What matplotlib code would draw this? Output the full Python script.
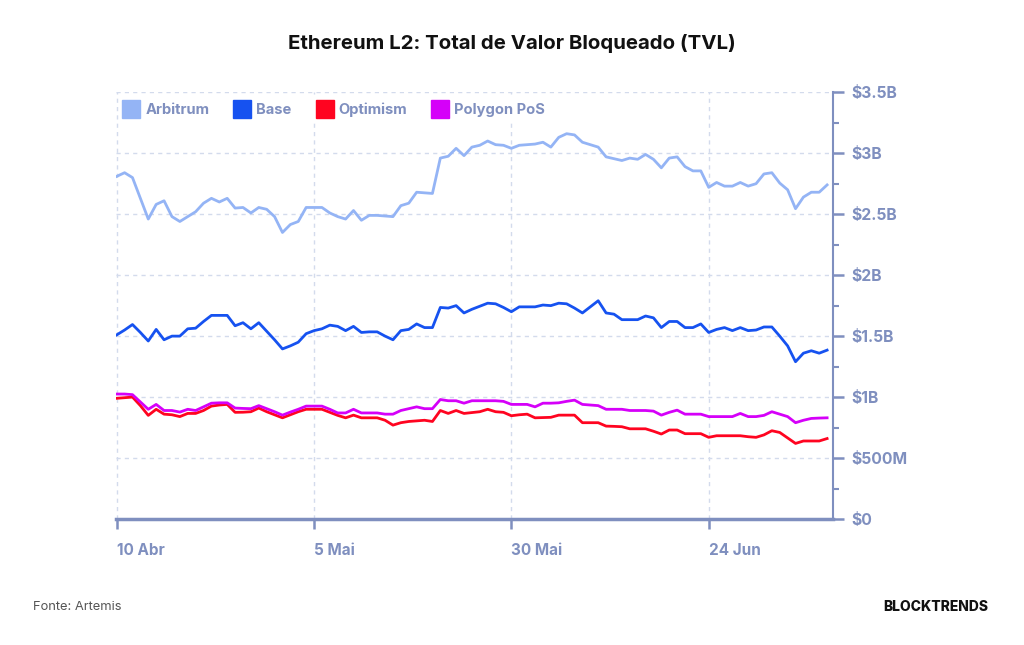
import numpy as np
import pandas as pd
import matplotlib.pyplot as plt
from matplotlib.lines import Line2D

plt.rcParams['font.family'] = ['Inter', 'DejaVu Sans']

# Daily TVL in billions of USD, 10 Apr -> 9 Jul
dates = pd.date_range('2024-04-10', periods=91, freq='D')

arbitrum = [2.81, 2.84, 2.80, 2.63, 2.46, 2.58, 2.61, 2.48, 2.44, 2.48,
            2.52, 2.59, 2.63, 2.60, 2.63, 2.55, 2.555, 2.51, 2.555, 2.54,
            2.48, 2.35, 2.415, 2.44, 2.555, 2.555, 2.555, 2.51, 2.48, 2.46,
            2.53, 2.45, 2.49, 2.49, 2.485, 2.48, 2.57, 2.59, 2.68, 2.675,
            2.67, 2.96, 2.975, 3.04, 2.98, 3.05, 3.065, 3.10, 3.07, 3.065,
            3.04, 3.065, 3.07, 3.075, 3.09, 3.05, 3.13, 3.16, 3.15, 3.09,
            3.07, 3.05, 2.97, 2.955, 2.94, 2.96, 2.95, 2.99, 2.95, 2.88,
            2.96, 2.97, 2.89, 2.855, 2.855, 2.72, 2.76, 2.73, 2.73, 2.76,
            2.73, 2.75, 2.83, 2.84, 2.755, 2.70, 2.545, 2.64, 2.68, 2.68,
            2.74]

base = [1.51, 1.55, 1.595, 1.53, 1.46, 1.555, 1.47, 1.50, 1.50, 1.56,
        1.565, 1.62, 1.67, 1.67, 1.67, 1.585, 1.61, 1.56, 1.61, 1.54,
        1.47, 1.395, 1.42, 1.45, 1.52, 1.545, 1.56, 1.59, 1.58, 1.545,
        1.58, 1.53, 1.535, 1.535, 1.50, 1.47, 1.545, 1.555, 1.60, 1.57,
        1.57, 1.735, 1.73, 1.75, 1.69, 1.72, 1.745, 1.77, 1.765, 1.735,
        1.70, 1.74, 1.74, 1.74, 1.755, 1.75, 1.77, 1.765, 1.73, 1.69,
        1.74, 1.79, 1.69, 1.68, 1.635, 1.635, 1.635, 1.665, 1.65, 1.57,
        1.62, 1.62, 1.57, 1.57, 1.60, 1.53, 1.555, 1.57, 1.545, 1.57,
        1.545, 1.55, 1.575, 1.575, 1.50, 1.42, 1.29, 1.36, 1.38, 1.36,
        1.385]

optimism = [0.99, 0.995, 1.00, 0.93, 0.85, 0.90, 0.86, 0.855, 0.84, 0.866,
            0.866, 0.89, 0.926, 0.935, 0.94, 0.875, 0.876, 0.88, 0.91, 0.88,
            0.855, 0.83, 0.855, 0.88, 0.90, 0.90, 0.90, 0.875, 0.85, 0.83,
            0.852, 0.83, 0.83, 0.83, 0.81, 0.77, 0.79, 0.80, 0.805, 0.81,
            0.80, 0.89, 0.866, 0.89, 0.866, 0.873, 0.88, 0.90, 0.88, 0.875,
            0.847, 0.855, 0.86, 0.83, 0.832, 0.834, 0.852, 0.852, 0.852, 0.79,
            0.79, 0.79, 0.762, 0.76, 0.757, 0.74, 0.74, 0.74, 0.72, 0.697,
            0.73, 0.73, 0.70, 0.70, 0.70, 0.67, 0.683, 0.683, 0.683, 0.683,
            0.675, 0.67, 0.69, 0.724, 0.71, 0.665, 0.62, 0.64, 0.64, 0.64,
            0.66]

polygon = [1.025, 1.025, 1.02, 0.96, 0.90, 0.94, 0.89, 0.89, 0.877, 0.90,
           0.89, 0.92, 0.95, 0.953, 0.953, 0.91, 0.907, 0.905, 0.93, 0.905,
           0.88, 0.852, 0.877, 0.90, 0.926, 0.926, 0.926, 0.90, 0.87, 0.87,
           0.90, 0.87, 0.87, 0.87, 0.86, 0.86, 0.89, 0.905, 0.92, 0.905,
           0.905, 0.98, 0.97, 0.97, 0.95, 0.97, 0.97, 0.97, 0.97, 0.965,
           0.94, 0.94, 0.94, 0.92, 0.95, 0.95, 0.953, 0.965, 0.975, 0.94,
           0.935, 0.93, 0.90, 0.90, 0.90, 0.89, 0.89, 0.89, 0.885, 0.852,
           0.875, 0.893, 0.86, 0.86, 0.86, 0.84, 0.84, 0.84, 0.84, 0.866,
           0.84, 0.84, 0.85, 0.88, 0.86, 0.84, 0.79, 0.81, 0.825, 0.828,
           0.83]

series_names = ['Arbitrum', 'Base', 'Optimism', 'Polygon PoS']
series_colors = ['#94b4f5', '#1652f0', '#ff0420', '#d500f9']

x_ticks = ['2024-04-10', '2024-05-05', '2024-05-30', '2024-06-24']
x_labels = ['10 Abr', '5 Mai', '30 Mai', '24 Jun']
y_ticks = [0, 0.5, 1, 1.5, 2, 2.5, 3, 3.5]
y_labels = ['$0', '$500M', '$1B', '$1.5B', '$2B', '$2.5B', '$3B', '$3.5B']

axis_color = '#7f8fbf'
grid_color = '#d3dbec'

fig = plt.figure(figsize=(10.24, 6.45), dpi=100)
ax = fig.add_axes([0.113, 0.1953, 0.7005, 0.6617])

for vals, name, col in zip([arbitrum, base, optimism, polygon], series_names, series_colors):
    ax.plot(dates, vals, color=col, lw=2.0, label=name, solid_joinstyle='round')

ax.set_xlim(dates[0] - pd.Timedelta(hours=3), dates[-1] + pd.Timedelta(hours=18))
ax.set_ylim(0, 3.5)

ax.yaxis.tick_right()
ax.set_yticks(y_ticks)
ax.set_yticklabels([s.replace('$', r'\$') for s in y_labels])
ax.set_yticks(np.arange(0.25, 3.5, 0.5), minor=True)
ax.set_xticks(pd.to_datetime(x_ticks))
ax.set_xticklabels(x_labels)

for s in ['top', 'left']:
    ax.spines[s].set_visible(False)
ax.spines['right'].set_color(axis_color)
ax.spines['right'].set_linewidth(1.5)
ax.spines['bottom'].set_color(axis_color)
ax.spines['bottom'].set_linewidth(2.5)

ax.tick_params(axis='y', which='major', length=8, width=1.8, color=axis_color,
               labelcolor=axis_color, labelsize=11.3, pad=5.5)
ax.tick_params(axis='y', which='minor', length=4, width=1.5, color=axis_color)
ax.tick_params(axis='x', length=7, width=1.8, color=axis_color,
               labelcolor=axis_color, labelsize=11, pad=10)
for lab in ax.get_xticklabels() + ax.get_yticklabels():
    lab.set_fontweight('bold')
for lab in ax.get_xticklabels():
    lab.set_horizontalalignment('left')

ax.grid(True, which='major', color=grid_color, linestyle=(0, (3, 3)), lw=1)
ax.set_axisbelow(True)

handles = [Line2D([], [], marker='s', linestyle='none', markersize=12.5,
                  markerfacecolor=c, markeredgecolor=c) for c in series_colors]
leg = ax.legend(handles, series_names, loc='center left', ncol=4, frameon=True,
                bbox_to_anchor=(0.1167, 0.8295), bbox_transform=fig.transFigure,
                borderaxespad=0, handlelength=1.0, handletextpad=0.45,
                columnspacing=1.75, borderpad=0.3, fontsize=10.6)
leg.get_frame().set_facecolor('white')
leg.get_frame().set_edgecolor('white')
leg.get_frame().set_alpha(1)
for t in leg.get_texts():
    t.set_color(axis_color)
    t.set_fontweight('bold')

fig.text(0.5, 0.933, 'Ethereum L2: Total de Valor Bloqueado (TVL)', ha='center', va='center',
         fontsize=14.7, fontweight='bold', color='#111111')
fig.text(0.032, 0.059, 'Fonte: Artemis', ha='left', va='center', fontsize=9.3, color='#555555')
fig.text(0.965, 0.059, 'BLOCKTRENDS', ha='right', va='center', fontsize=10,
         fontweight='heavy', color='#111111')

fig.savefig('out.png', dpi=100, facecolor='white')
